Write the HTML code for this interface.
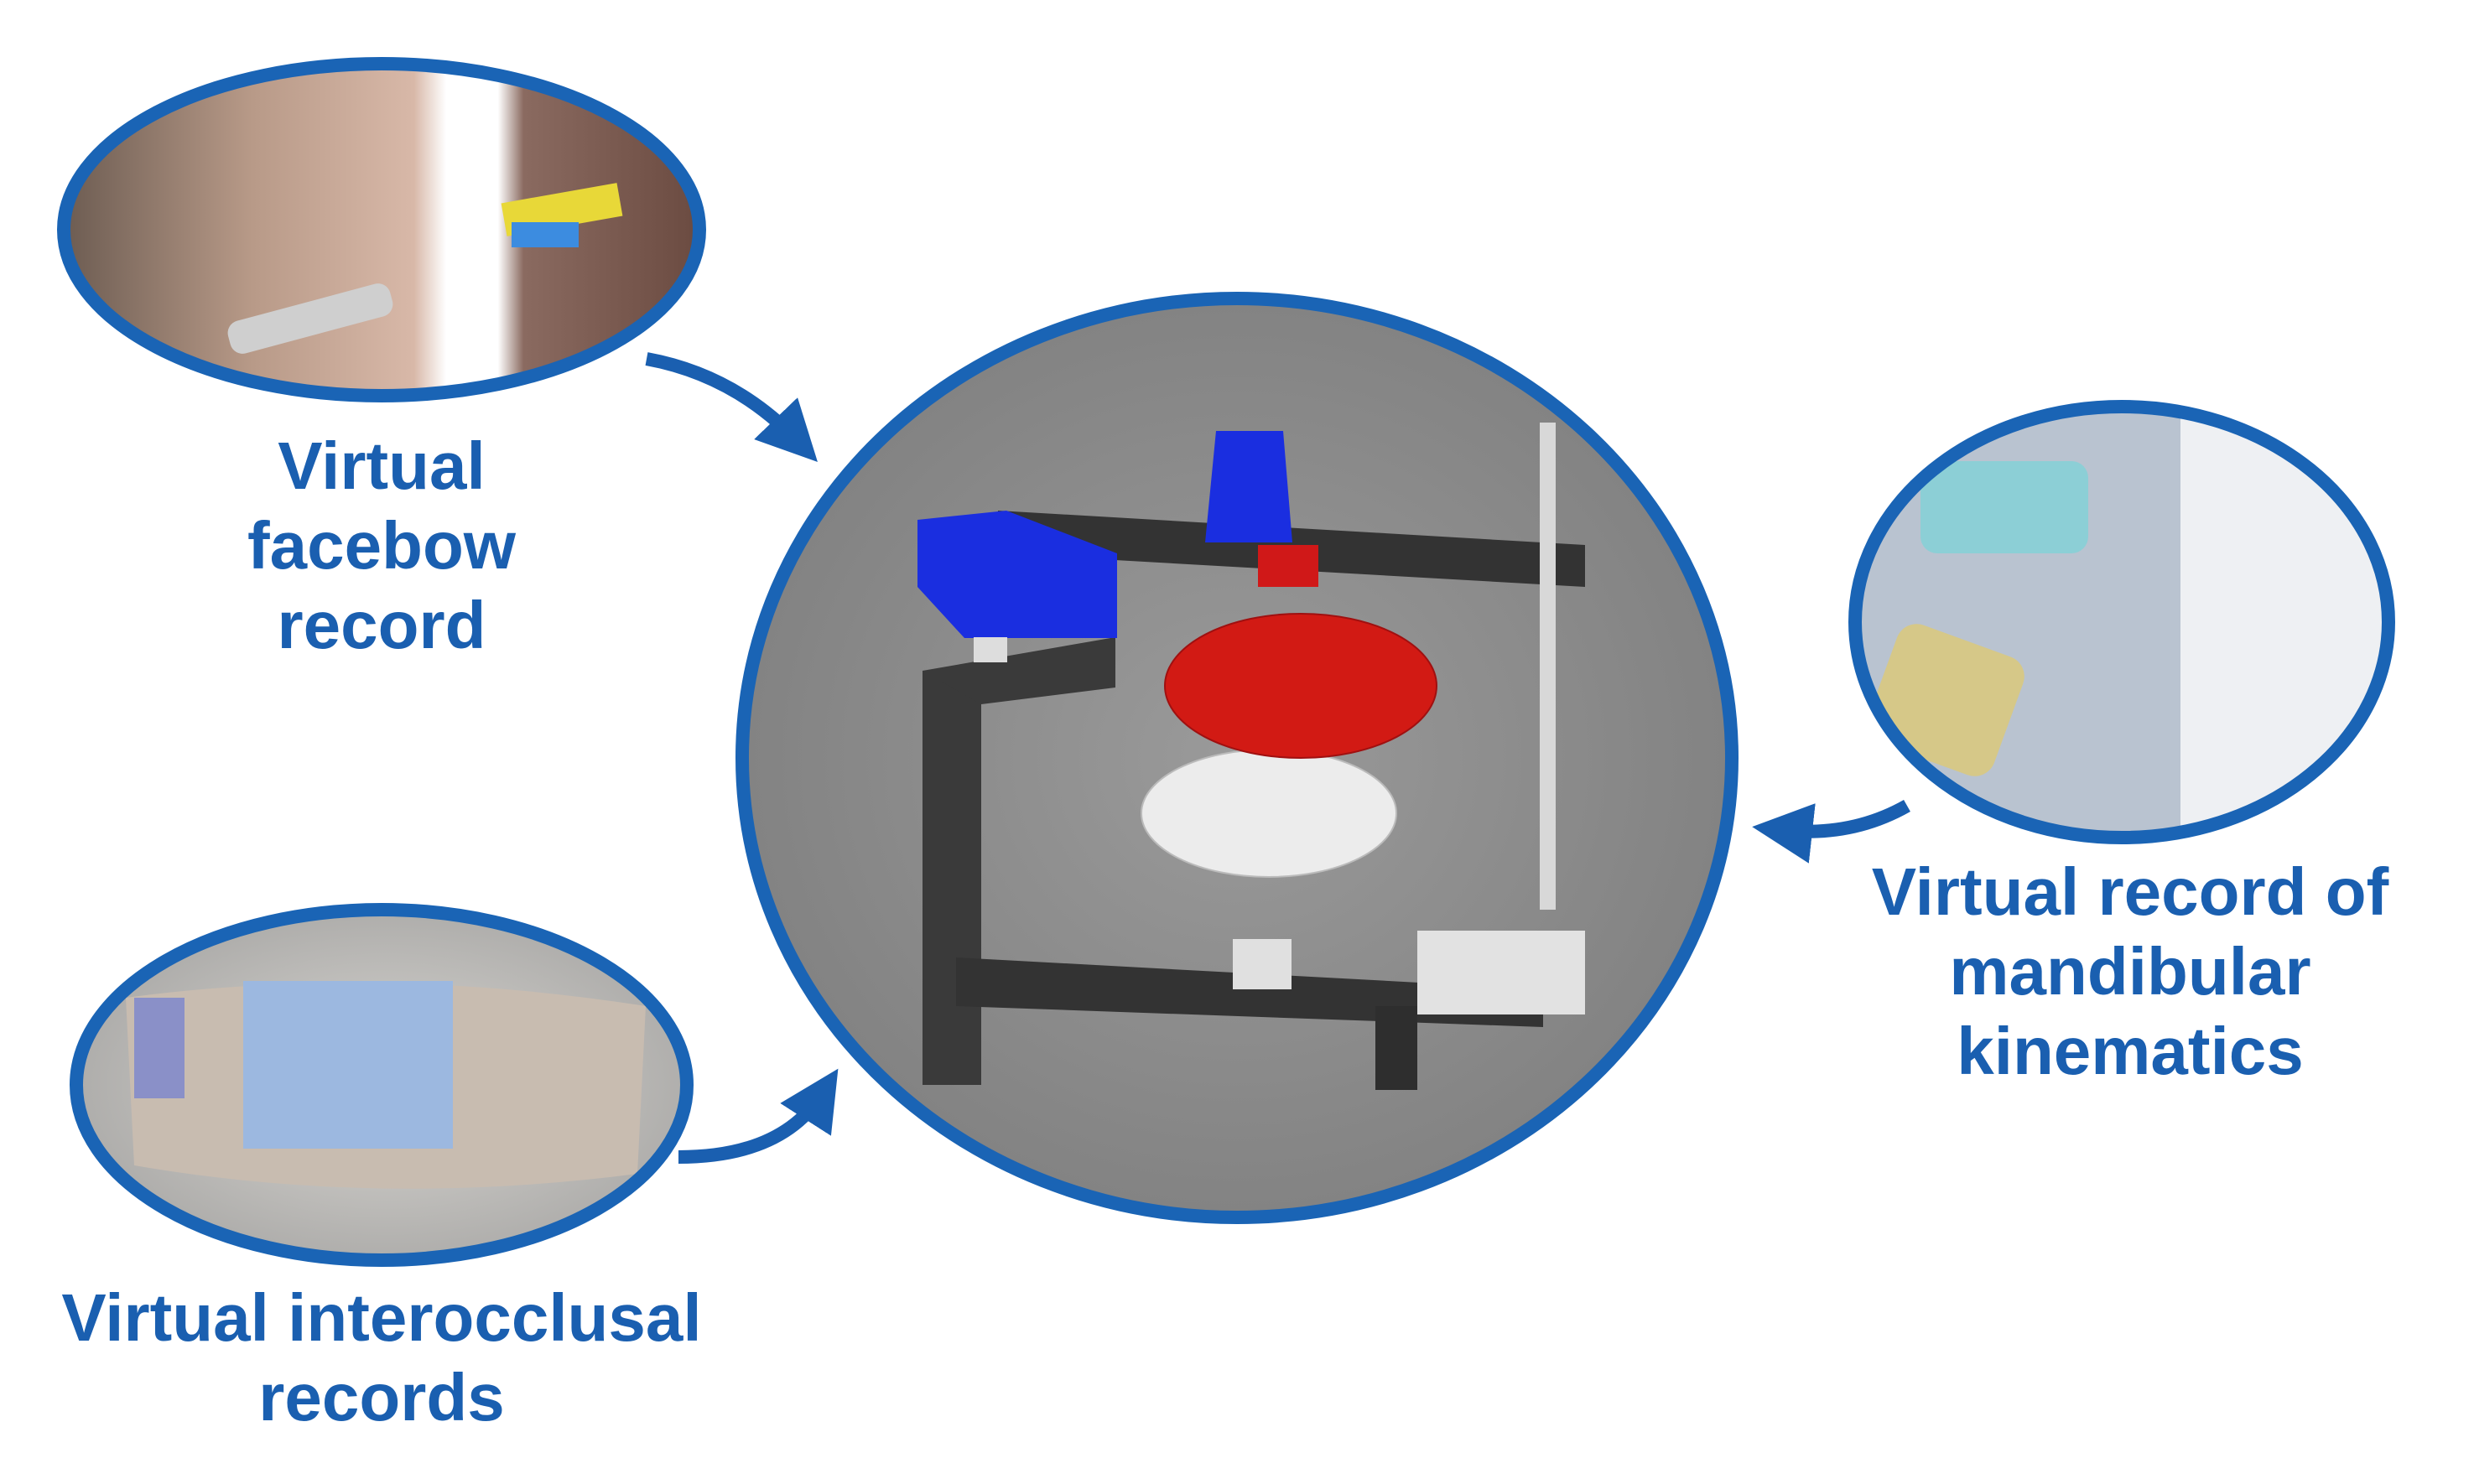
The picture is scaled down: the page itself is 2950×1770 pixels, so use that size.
<!DOCTYPE html>
<html><head><meta charset="utf-8"><style>
html,body{margin:0;padding:0;background:#fff;}
body{width:2950px;height:1770px;position:relative;overflow:hidden;}
.t{position:absolute;font-family:"Liberation Sans",sans-serif;font-weight:bold;color:#1a5fb0;font-size:80px;line-height:95px;text-align:center;}
</style></head><body>
<svg width="2950" height="1770" style="position:absolute;left:0;top:0">
<defs>
<radialGradient id="g1" cx="50%" cy="50%" r="60%"><stop offset="0" stop-color="#9a9a9a"/><stop offset="1" stop-color="#7e7e7e"/></radialGradient>
<linearGradient id="face" x1="0" x2="1"><stop offset="0" stop-color="#6a5a50"/><stop offset="0.3" stop-color="#b89a88"/><stop offset="0.55" stop-color="#d8b8a8"/><stop offset="0.6" stop-color="#fff"/><stop offset="0.68" stop-color="#fff"/><stop offset="0.72" stop-color="#8a6a60"/><stop offset="1" stop-color="#6a4a40"/></linearGradient>
<radialGradient id="bl" cx="50%" cy="50%" r="55%"><stop offset="0" stop-color="#d8d6d2"/><stop offset="1" stop-color="#a9a8a6"/></radialGradient>
<clipPath id="cR"><ellipse cx="2530" cy="742" rx="318" ry="257"/></clipPath>
<clipPath id="cB"><ellipse cx="455" cy="1294" rx="364" ry="209"/></clipPath>
<clipPath id="cT"><ellipse cx="455" cy="274" rx="379" ry="198"/></clipPath>
<marker id="ah" viewBox="0 0 10 10" refX="5" refY="5" markerWidth="4.5" markerHeight="4.5" orient="auto"><path d="M0,0 L10,5 L0,10 z" fill="#1a5fb0"/></marker>
</defs>
<!-- top left facebow -->
<g clip-path="url(#cT)">
<rect x="70" y="70" width="770" height="410" fill="url(#face)"/>
<rect x="270" y="360" width="200" height="40" rx="15" fill="#cfcfcf" transform="rotate(-15 370 380)"/>
<rect x="600" y="230" width="140" height="40" fill="#e8d838" transform="rotate(-10 670 250)"/>
<rect x="610" y="265" width="80" height="30" fill="#3c8ce0"/>
</g>
<ellipse cx="455" cy="274" rx="379" ry="198" fill="none" stroke="#1a64b5" stroke-width="16"/>
<!-- right kinematics -->
<g clip-path="url(#cR)">
<rect x="2200" y="480" width="700" height="530" fill="#b9c3d0"/>
<rect x="2600" y="480" width="260" height="530" fill="#eef0f3"/>
<rect x="2290" y="550" width="200" height="110" rx="20" fill="#8ccfd6"/>
<rect x="2240" y="760" width="160" height="150" rx="25" fill="#d6c888" transform="rotate(20 2320 835)"/>
</g>
<ellipse cx="2530" cy="742" rx="318" ry="257" fill="none" stroke="#1a64b5" stroke-width="16"/>
<!-- bottom-left interocclusal -->
<g clip-path="url(#cB)">
<rect x="80" y="1080" width="760" height="430" fill="url(#bl)"/>
<path d="M150,1190 Q450,1150 770,1200 L760,1400 Q450,1440 160,1390 Z" fill="#c8bcb0"/>
<rect x="290" y="1170" width="250" height="200" fill="#9cb8e0"/>
<rect x="160" y="1190" width="60" height="120" fill="#8a90c8"/>
</g>
<ellipse cx="455" cy="1294" rx="364" ry="209" fill="none" stroke="#1a64b5" stroke-width="16"/>
<!-- center -->
<ellipse cx="1475" cy="904" rx="590" ry="548" fill="url(#g1)" stroke="#1a64b5" stroke-width="16"/>
<polygon points="1190,609 1890,650 1890,700 1190,660" fill="#333"/>
<polygon points="1100,800 1170,800 1170,1294 1100,1294" fill="#3a3a3a"/>
<polygon points="1100,800 1330,760 1330,820 1170,840" fill="#3a3a3a"/>
<polygon points="1140,1142 1840,1180 1840,1225 1140,1200" fill="#333"/>
<polygon points="1640,1200 1690,1200 1690,1300 1640,1300" fill="#2e2e2e"/>
<rect x="1836" y="504" width="19" height="581" fill="#d8d8d8"/>
<rect x="1690" y="1110" width="200" height="100" fill="#e2e2e2"/>
<rect x="1470" y="1120" width="70" height="60" fill="#e0e0e0"/>
<polygon points="1094,620 1200,609 1332,660 1332,761 1150,761 1094,700" fill="#1a2ee0"/>
<polygon points="1450,514 1530,514 1541,647 1437,647" fill="#1a2ee0"/>
<rect x="1500" y="650" width="72" height="50" fill="#d01818"/>
<ellipse cx="1513" cy="970" rx="152" ry="76" fill="#ececec" stroke="#bbb" stroke-width="2"/>
<ellipse cx="1551" cy="818" rx="162" ry="86" fill="#d21a14" stroke="#a01010" stroke-width="2"/>
<rect x="1161" y="760" width="40" height="30" fill="#ddd"/>
<!-- arrows -->
<path d="M771,428 Q875,447 950,525" fill="none" stroke="#1a5fb0" stroke-width="16" marker-end="url(#ah)"/>
<path d="M809,1380 Q932,1380 980,1305" fill="none" stroke="#1a5fb0" stroke-width="16" marker-end="url(#ah)"/>
<path d="M2274,961 Q2207,999 2125,990" fill="none" stroke="#1a5fb0" stroke-width="16" marker-end="url(#ah)"/>
</svg>
<div class="t" style="left:155px;top:508px;width:600px;">Virtual<br>facebow<br>record</div>
<div class="t" style="left:2140px;top:1016px;width:800px;">Virtual record of<br>mandibular<br>kinematics</div>
<div class="t" style="left:5px;top:1524px;width:900px;">Virtual interocclusal<br>records</div>
</body></html>
